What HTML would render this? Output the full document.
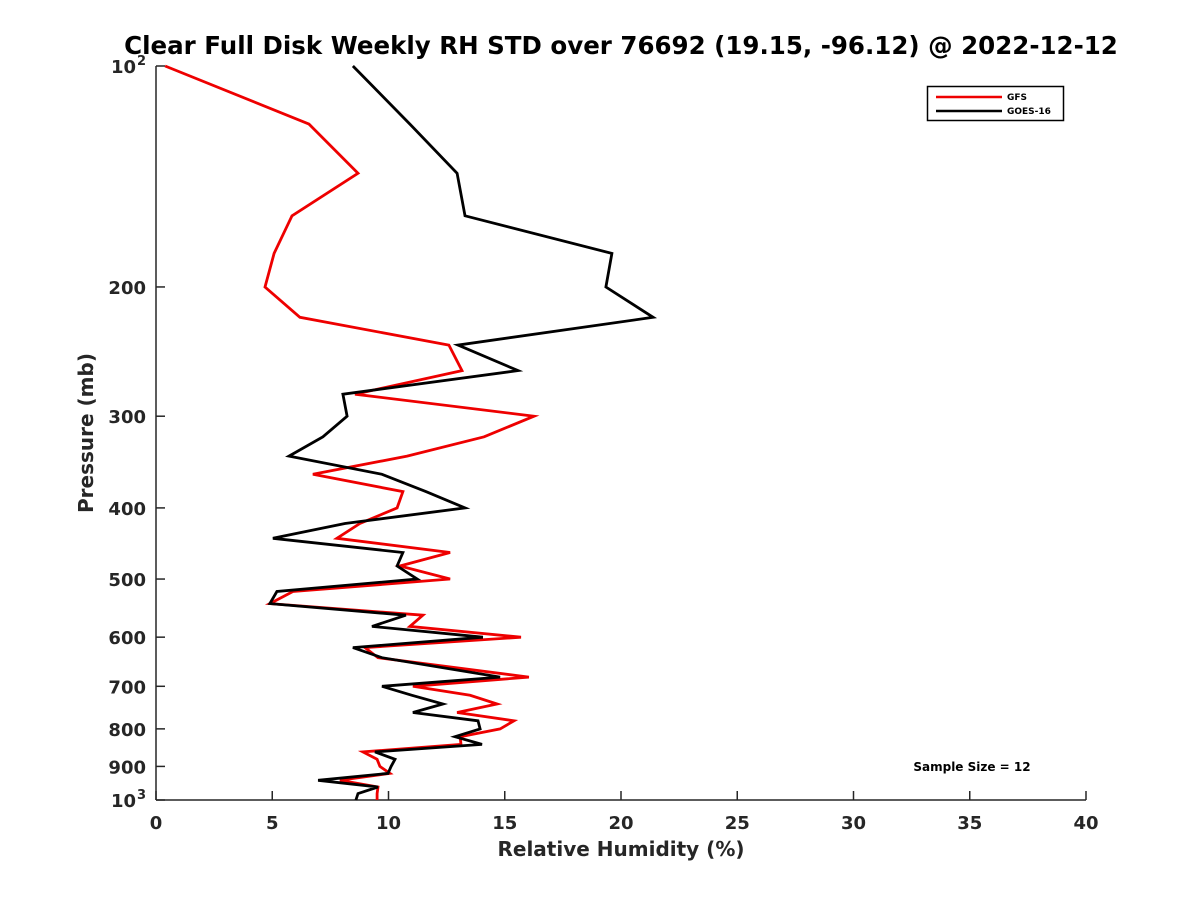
<!DOCTYPE html>
<html><head><meta charset="utf-8"><style>
body{margin:0;background:#fff;}
svg text{font-family:"DejaVu Sans","Liberation Sans",sans-serif;font-weight:bold;fill:#262626;}
</style></head><body>
<svg id="chart" width="1200" height="900" viewBox="0 0 1200 900" xmlns="http://www.w3.org/2000/svg">
<rect width="1200" height="900" fill="#fff"/>
<text x="621" y="54" font-size="24.5" text-anchor="middle" style="fill:#000">Clear Full Disk Weekly RH STD over 76692 (19.15, -96.12) @ 2022-12-12</text>
<g id="axes"></g>
<g id="series"></g>
<text x="621" y="856" font-size="20" text-anchor="middle">Relative Humidity (%)</text>
<text x="93" y="433" font-size="20" text-anchor="middle" transform="rotate(-90 93 433)">Pressure (mb)</text>
<g>
<rect x="927.5" y="86.5" width="136" height="34" fill="#fff" stroke="#000" stroke-width="1.5"/>
<line x1="936" y1="97" x2="1002" y2="97" stroke="#e00" stroke-width="2.5"/>
<text x="1007" y="100" font-size="9" style="fill:#000">GFS</text>
<line x1="936" y1="111" x2="1002" y2="111" stroke="#000" stroke-width="2.5"/>
<text x="1007" y="114" font-size="9" style="fill:#000">GOES-16</text>
</g>
<text x="972" y="771" font-size="12" text-anchor="middle" style="fill:#000">Sample Size = 12</text>
</svg>
<script>
const pressures=[100,120,140,160,180,200,220,240,260,280,300,320,340,360,380,400,420,440,460,480,500,520,540,560,580,600,620,640,680,700,720,740,760,780,800,820,840,860,880,900,920,940,960,980,1000];
const gfsRH=[0.39,6.58,8.69,5.85,5.08,4.69,6.19,12.60,13.16,8.56,16.26,14.11,10.80,6.75,10.62,10.37,8.77,7.78,12.65,10.49,12.65,5.89,4.90,11.48,10.92,15.70,8.99,9.55,16.04,11.05,13.51,14.67,12.95,15.40,14.80,13.08,13.12,8.90,9.51,9.63,10.06,7.91,9.55,9.51,9.51];
const goesRH=[8.47,10.92,12.95,13.29,19.61,19.35,21.38,12.99,15.57,8.04,8.22,7.18,5.72,9.72,11.61,13.29,8.13,5.03,10.62,10.37,11.23,5.20,4.90,10.75,9.29,14.06,8.47,9.72,14.80,9.72,11.01,12.34,11.05,13.85,13.94,12.86,14.02,9.42,10.28,10.11,9.98,6.97,9.55,8.69,8.60];
const xTicks=[0,5,10,15,20,25,30,35,40];
const yTicks=[100,200,300,400,500,600,700,800,900,1000];
const yTickLabels=["10^2","200","300","400","500","600","700","800","900","10^3"];
const L=156,R=1086,T=66,B=800;
const xs=v=>L+(v-0)/(40-0)*(R-L);
const ys=p=>T+(Math.log10(p)-2)*(B-T);
const NS="http://www.w3.org/2000/svg";
function mk(tag,attrs,parent){const e=document.createElementNS(NS,tag);for(const k in attrs)e.setAttribute(k,attrs[k]);parent.appendChild(e);return e;}
const ax=document.getElementById('axes');
let e=mk('line',{x1:L,y1:B,x2:R,y2:B,stroke:'#262626','stroke-width':1.5},ax);


e=mk('line',{x1:L,y1:T,x2:L,y2:B,stroke:'#262626','stroke-width':1.5},ax);


xTicks.forEach(v=>{
 const x=xs(v);
 let t=mk('line',{x1:x,y1:B,x2:x,y2:B-9,stroke:'#262626','stroke-width':1.5},ax);
 
 
 let l=mk('text',{x:x,y:829,'font-size':18,'text-anchor':'middle'},ax);l.textContent=v;
 
 
});
yTicks.forEach((p,i)=>{
 const y=ys(p);
 let t=mk('line',{x1:L,y1:y,x2:L+9,y2:y,stroke:'#262626','stroke-width':1.5},ax);
 
 
 const lab=yTickLabels[i];
 if(lab.indexOf('^')>=0){
  const parts=lab.split('^');
  let l=mk('text',{x:136,y:y+7,'font-size':18,'text-anchor':'end'},ax);l.textContent=parts[0];
  
  
  let s=mk('text',{x:137,y:y-1,'font-size':13,'text-anchor':'start'},ax);s.textContent=parts[1];
  
  
 } else {
  let l=mk('text',{x:146,y:y+7,'font-size':18,'text-anchor':'end'},ax);l.textContent=lab;
  
  
 }
});
const sg=document.getElementById('series');
function line(vals,color,name){
 const pts=vals.map((v,i)=>xs(v).toFixed(1)+','+ys(pressures[i]).toFixed(1)).join(' ');
 const pl=mk('polyline',{points:pts,fill:'none',stroke:color,'stroke-width':2.8,'stroke-linejoin':'miter'},sg);
 
 
}
line(gfsRH,'#e00','gfs-line');
line(goesRH,'#000','goes16-line');
</script>
</body></html>
